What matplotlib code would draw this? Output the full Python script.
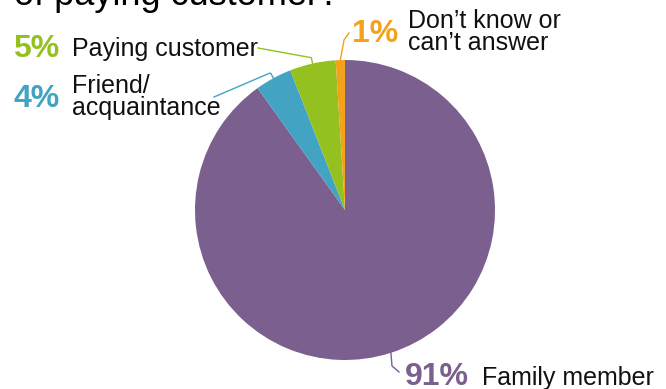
import matplotlib.pyplot as plt
import numpy as np

# survey shares (clockwise from 12 o'clock)
labels = ['Family member', 'Friend/\nacquaintance', 'Paying customer', 'Don\u2019t know or\ncan\u2019t answer']
shares = [91, 4, 5, 1]
colors = ['#7B5F8E', '#42A3C3', '#94C11F', '#F4A21C']

plt.rcParams['font.family'] = ['Liberation Sans', 'DejaVu Sans']

W, H = 666, 389
fig = plt.figure(figsize=(W / 100, H / 100), dpi=100)
fig.patch.set_facecolor('white')

# pie centred at pixel (345, 210) with 150 px radius
cx, cy, R = 345, 210, 150
ax = fig.add_axes([(cx - R) / W, (H - cy - R) / H, 2 * R / W, 2 * R / H])
wedges, _ = ax.pie(shares, colors=colors, startangle=90, counterclock=False,
                   radius=1, wedgeprops=dict(linewidth=0))
ax.set_xlim(-1, 1)
ax.set_ylim(-1, 1)
ax.axis('off')


def d(px, py):
    # pixel position -> data coords of the pie axes
    return (px - cx) / R, (cy - py) / R


def rim(w, r=1.0):
    a = np.deg2rad((w.theta1 + w.theta2) / 2)
    return r * np.cos(a), r * np.sin(a)


# title, partly above the top edge
fig.text(14 / W, 1 - 5 / H, 'of paying customer?', fontsize=26, color='black',
         ha='left', va='baseline')

pct_kw = dict(fontsize=23, fontweight='bold', va='baseline', ha='left', clip_on=False)
txt_kw = dict(fontsize=18, color='#111111', va='baseline', ha='left', clip_on=False,
              linespacing=0.92)

# label positions (pixels): percent text, name text (baseline of last line)
pct_pos = [(405, 385), (13, 107), (13, 57), (352, 42)]
name_pos = [(482, 385), (72, 115), (72, 56), (408, 50)]

for w, s, lab, c, pp, npos in zip(wedges, shares, labels, colors, pct_pos, name_pos):
    ax.text(*d(*pp), f'{s}%', color=c, **pct_kw)
    ax.text(*d(*npos), lab, **txt_kw)

# leader lines from wedge rims to the labels
fam, fri, pay, dk = wedges
x0, y0 = rim(fam)
x1, y1 = d(392, 366)
x2, y2 = d(399, 372)
ax.plot([x0, x1, x2], [y0, y1, y2], color=colors[0], lw=1, clip_on=False)

x0, y0 = rim(fri)
x1, y1 = rim(fri, 1.035)
x2, y2 = d(270, 73)
x3, y3 = d(214, 97)
ax.plot([x0, x1, x2, x3], [y0, y1, y2, y3], color=colors[1], lw=1, clip_on=False)

x0, y0 = rim(pay)
x1, y1 = rim(pay, 1.04)
x2, y2 = d(258, 48)
ax.plot([x0, x1, x2], [y0, y1, y2], color=colors[2], lw=1, clip_on=False)

x0, y0 = rim(dk)
x1, y1 = d(344, 40)
x2, y2 = d(349, 33)
ax.plot([x0, x1, x2], [y0, y1, y2], color=colors[3], lw=1, clip_on=False)

fig.savefig('out.png', dpi=100, facecolor='white')
